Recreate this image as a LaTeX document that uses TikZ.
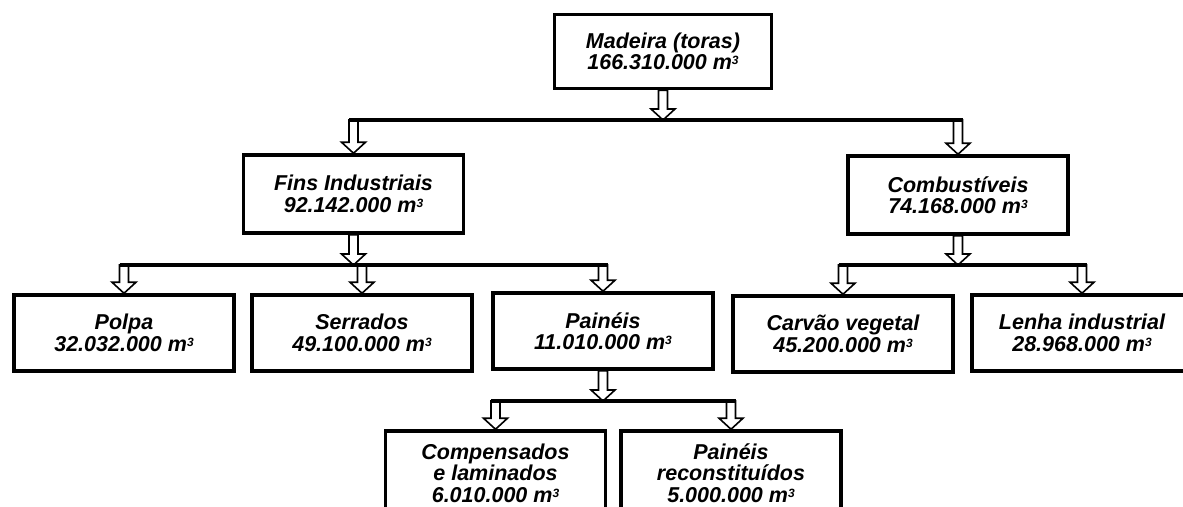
\documentclass[tikz,border=0pt]{standalone}
\usepackage{fontspec}
\setmainfont{Liberation Sans}
\usetikzlibrary{calc}

\newcommand{\cubo}{\raisebox{0.45ex}{\fontsize{12}{12}\selectfont 3}}
\tikzset{
  caixa/.style={draw, line width=3.5pt, fill=white, align=center,
    minimum width=220pt, minimum height=76pt, inner sep=0pt,
    font=\bfseries\itshape\fontsize{21.5}{21.5}\selectfont},
  barra/.style={line width=3.5pt},
  seta/.style={line width=1.6pt, fill=white, line join=miter}
}
% hollow arrow going down from #1 to #2
\newcommand{\setaoca}[2]{%
  \draw[seta] let \p1=(#1), \p2=(#2) in
    (\x1-4.5pt,\y1) -- (\x1-4.5pt,\y2+11pt) -- (\x1-12pt,\y2+11pt) -- (\x1,\y2)
    -- (\x1+12pt,\y2+11pt) -- (\x1+4.5pt,\y2+11pt) -- (\x1+4.5pt,\y1) -- cycle;
}

\begin{document}
\begin{tikzpicture}[x=1pt,y=-1pt]
\useasboundingbox (0,0) rectangle (1183,506);

\coordinate (b1) at (663,120);
\coordinate (b2) at (353,265);
\coordinate (b3) at (958,265);
\coordinate (b4) at (603,401);

% boxes
\node[caixa, minimum width=217pt, minimum height=74pt] (madeira) at (663,51.5)
  {Madeira (toras)\\166.310.000 m\cubo};
\node[caixa, minimum height=78pt] (fins) at (353.5,194)
  {Fins Industriais\\92.142.000 m\cubo};
\node[caixa, minimum height=78pt] (combust) at (958,195)
  {Combustíveis\\74.168.000 m\cubo};
\node[caixa] (polpa) at (124,333) {Polpa\\32.032.000 m\cubo};
\node[caixa] (serrados) at (362,333) {Serrados\\49.100.000 m\cubo};
\node[caixa] (paineis) at (603,331) {Painéis\\11.010.000 m\cubo};
\node[caixa] (carvao) at (843,334) {Carvão vegetal\\45.200.000 m\cubo};
\node[caixa] (lenha) at (1082,333) {Lenha industrial\\28.968.000 m\cubo};
\node[caixa, minimum height=84pt] (compens) at (495.5,473)
  {Compensados\\e laminados\\6.010.000 m\cubo};
\node[caixa, minimum height=84pt] (reconst) at (731,473)
  {Painéis\\reconstituídos\\5.000.000 m\cubo};

% arrows
\setaoca{madeira.south}{b1}
\setaoca{fins.north |- b1}{fins.north}
\setaoca{combust.north |- b1}{combust.north}

\setaoca{fins.south}{b2}
\setaoca{polpa.north |- b2}{polpa.north}
\setaoca{serrados.north |- b2}{serrados.north}
\setaoca{paineis.north |- b2}{paineis.north}

\setaoca{combust.south}{b3}
\setaoca{carvao.north |- b3}{carvao.north}
\setaoca{lenha.north |- b3}{lenha.north}

\setaoca{paineis.south}{b4}
\setaoca{compens.north |- b4}{compens.north}
\setaoca{reconst.north |- b4}{reconst.north}

% bars
\draw[barra] ($(fins.north |- b1)+(-4.5,0)$) -- ($(combust.north |- b1)+(4.5,0)$);
\draw[barra] ($(polpa.north |- b2)+(-4.5,0)$) -- ($(paineis.north |- b2)+(4.5,0)$);
\draw[barra] ($(carvao.north |- b3)+(-4.5,0)$) -- ($(lenha.north |- b3)+(4.5,0)$);
\draw[barra] ($(compens.north |- b4)+(-4.5,0)$) -- ($(reconst.north |- b4)+(4.5,0)$);
\end{tikzpicture}
\end{document}
